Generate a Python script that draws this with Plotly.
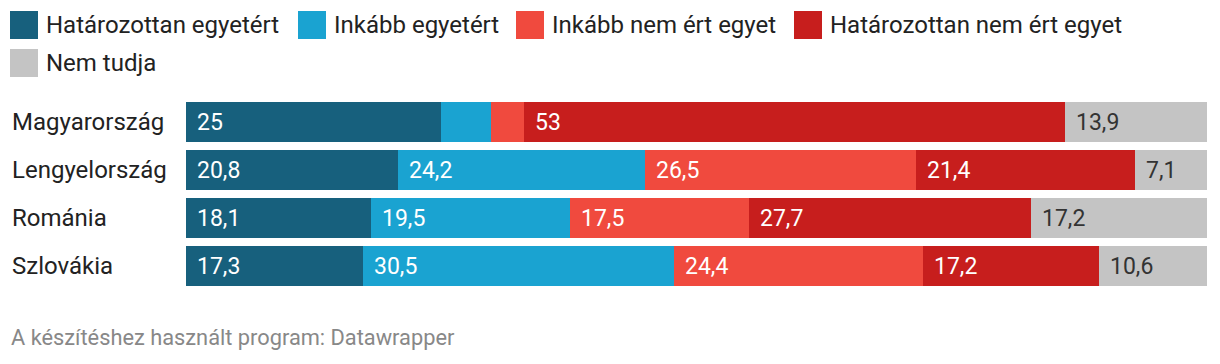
import plotly.graph_objects as go

countries = ["Magyarország", "Lengyelország", "Románia", "Szlovákia"]
series_names = ["Határozottan egyetért", "Inkább egyetért", "Inkább nem ért egyet",
                "Határozottan nem ért egyet", "Nem tudja"]
hat_egyet = [25, 20.8, 18.1, 17.3]
inkabb_egyet = [4.9, 24.2, 19.5, 30.5]
inkabb_nem = [3.2, 26.5, 17.5, 24.4]
hat_nem = [53, 21.4, 27.7, 17.2]
nem_tudja = [13.9, 7.1, 17.2, 10.6]
colors = ["#17607d", "#1aa3d1", "#f04a3e", "#c71e1d", "#c4c4c4"]
label_colors = ["#ffffff", "#ffffff", "#ffffff", "#ffffff", "#333333"]
# labels hidden for segments too narrow to hold text
hidden = {(0, 1), (0, 2)}

series = [hat_egyet, inkabb_egyet, inkabb_nem, hat_nem, nem_tudja]

OFF = 8  # page body margin
W, H = 1220 - 2 * OFF, 364 - 2 * OFF
L, R, T, B = 186 - OFF, 13 - OFF, 98 - OFF, 74 - OFF
PW, PH = W - L - R, H - T - B

def px_x(px):
    return (px - OFF - L) / PW

def px_y(py):
    return (H - B - (py - OFF)) / PH

FONT = "Roboto"
fig = go.Figure()
for i, (name, vals) in enumerate(zip(series_names, series)):
    fig.add_trace(go.Bar(
        y=countries, x=vals, name=name, orientation="h",
        marker=dict(color=colors[i], line=dict(width=0)),
        showlegend=False, hoverinfo="x+name",
    ))

annotations = []
for ci, c in enumerate(countries):
    base = 0.0
    for si, vals in enumerate(series):
        v = vals[ci]
        if (ci, si) not in hidden:
            txt = (f"{v:g}").replace(".", ",")
            annotations.append(dict(
                x=base, y=c, xref="x", yref="y", text=txt, showarrow=False,
                xanchor="left", yanchor="middle", xshift=9,
                font=dict(family=FONT, size=23, color=label_colors[si]),
            ))
        base += v
    annotations.append(dict(
        x=px_x(10), y=c, xref="paper", yref="y", text=c, showarrow=False,
        xanchor="left", yanchor="middle",
        font=dict(family=FONT, size=24, color="#222222"),
    ))

# legend (manual, to match large swatches and wrapping)
legend_items = [(10, 11), (298, 11), (516, 11), (794, 11), (10, 49)]
shapes = []
for (lx, ly), name, col in zip(legend_items, series_names, colors):
    shapes.append(dict(type="rect", xref="paper", yref="paper",
                       x0=px_x(lx), x1=px_x(lx + 28), y0=px_y(ly), y1=px_y(ly + 28),
                       fillcolor=col, line=dict(width=0)))
    annotations.append(dict(
        x=px_x(lx + 34), y=px_y(ly + 14), xref="paper", yref="paper", text=name,
        showarrow=False, xanchor="left", yanchor="middle",
        font=dict(family=FONT, size=24, color="#222222"),
    ))

annotations.append(dict(
    x=px_x(9), y=px_y(337), xref="paper", yref="paper",
    text="A készítéshez használt program: Datawrapper", showarrow=False,
    xanchor="left", yanchor="middle",
    font=dict(family=FONT, size=21.8, color="#888888"),
))

fig.update_layout(
    width=W, height=H, barmode="stack", bargap=8 / 48,
    margin=dict(l=L, r=R, t=T, b=B, autoexpand=False),
    paper_bgcolor="white", plot_bgcolor="white",
    xaxis=dict(range=[0, 100], visible=False, fixedrange=True),
    yaxis=dict(autorange=False, range=[3.5, -0.5], visible=False, fixedrange=True,
               categoryorder="array", categoryarray=countries),
    shapes=shapes, annotations=annotations,
)
fig.write_html("out.html", config={"displayModeBar": False})
